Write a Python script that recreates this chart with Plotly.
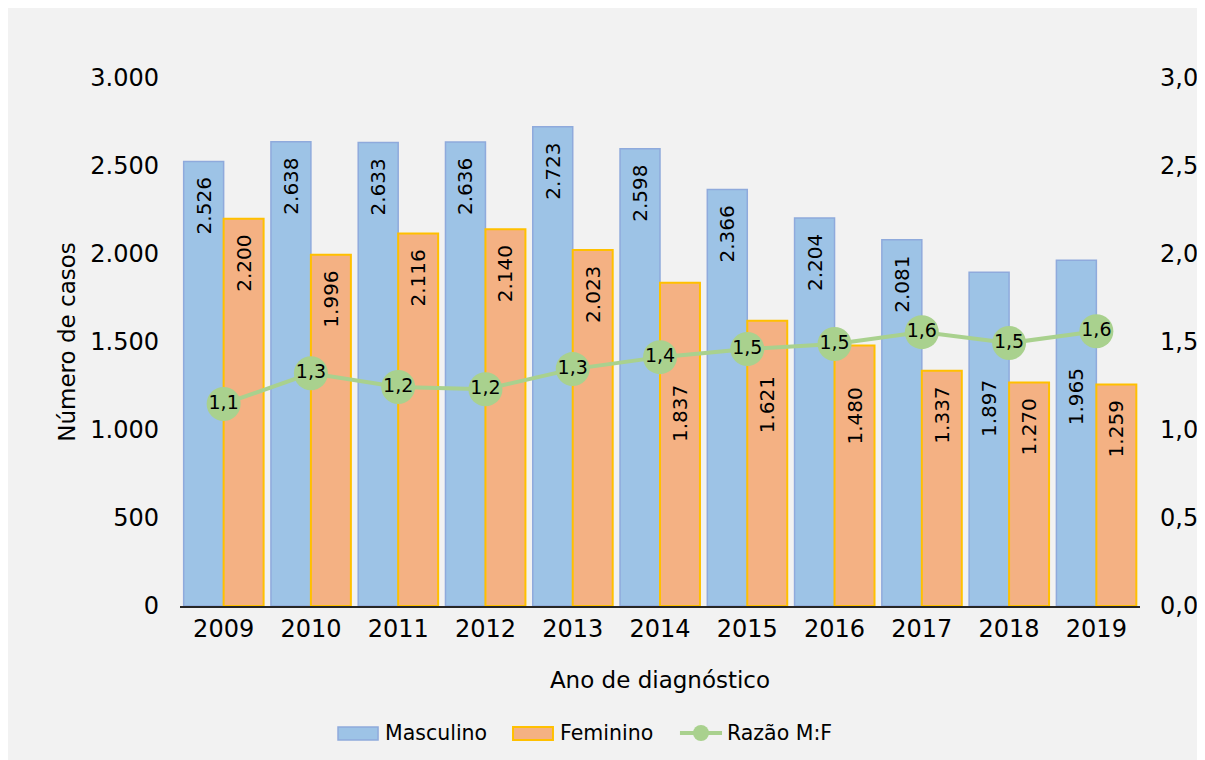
import plotly.graph_objects as go

anos = ["2009", "2010", "2011", "2012", "2013", "2014", "2015", "2016", "2017", "2018", "2019"]
masculino = [2526, 2638, 2633, 2636, 2723, 2598, 2366, 2204, 2081, 1897, 1965]
feminino = [2200, 1996, 2116, 2140, 2023, 1837, 1621, 1480, 1337, 1270, 1259]
razao = [1.148, 1.322, 1.244, 1.232, 1.346, 1.414, 1.460, 1.489, 1.556, 1.494, 1.561]

# data labels that the original moves down, below the ratio markers (label centre, in cases)
rotulo_masc_baixo = {"2018": 1120, "2019": 1188}
rotulo_fem_baixo = {"2014": 1091, "2015": 1142, "2016": 1080}

FONT = "DejaVu Sans"
C_M, C_M_LINE = "#9dc3e6", "#8faadc"
C_F, C_F_LINE = "#f4b183", "#ffc000"
C_R = "#a9d18e"
PAD = "\u00a0\u00a0"


def fmt(v):
    return f"{v:,}".replace(",", ".")


def textos(anos_, vals, baixo):
    return ["" if a in baixo else fmt(v) + PAD for a, v in zip(anos_, vals)]


fig = go.Figure()
fig.add_trace(go.Bar(
    x=anos, y=masculino, name="Masculino",
    marker=dict(color=C_M, line=dict(color=C_M_LINE, width=1.5)),
    text=textos(anos, masculino, rotulo_masc_baixo), texttemplate="%{text}",
    textposition="inside", insidetextanchor="end",
    textangle=-90, textfont=dict(family=FONT, size=20, color="black"),
    constraintext="none", showlegend=False,
))
fig.add_trace(go.Bar(
    x=anos, y=feminino, name="Feminino",
    marker=dict(color=C_F, line=dict(color=C_F_LINE, width=2)),
    text=textos(anos, feminino, rotulo_fem_baixo), texttemplate="%{text}",
    textposition="inside", insidetextanchor="end",
    textangle=-90, textfont=dict(family=FONT, size=20, color="black"),
    constraintext="none", showlegend=False,
))

for baixo, vals, shift in [(rotulo_masc_baixo, masculino, -20), (rotulo_fem_baixo, feminino, 20)]:
    for a, yl in baixo.items():
        i = anos.index(a)
        fig.add_annotation(x=i, y=yl, xref="x", yref="y", text=fmt(vals[i]),
                           textangle=-90, showarrow=False, xshift=shift,
                           font=dict(family=FONT, size=20, color="black"))

fig.add_trace(go.Scatter(
    x=anos, y=razao, name="Razão M:F", yaxis="y2",
    mode="lines+markers+text",
    line=dict(color=C_R, width=4),
    marker=dict(color=C_R, size=34),
    texttemplate="%{y:.1f}", textposition="middle center",
    textfont=dict(family=FONT, size=19, color="black"),
    showlegend=False,
))

# manual legend (wide symbols as in the reference)
LY0, LY1, LYC = -0.2292, -0.2538, -0.2405
fig.add_shape(type="rect", xref="paper", yref="paper", x0=0.1646, x1=0.2063, y0=LY1, y1=LY0,
              fillcolor=C_M, line=dict(color=C_M_LINE, width=1.5))
fig.add_shape(type="rect", xref="paper", yref="paper", x0=0.3469, x1=0.3885, y0=LY1, y1=LY0,
              fillcolor=C_F, line=dict(color=C_F_LINE, width=2))
fig.add_shape(type="line", xref="paper", yref="paper", x0=0.5208, x1=0.5646, y0=LYC, y1=LYC,
              line=dict(color=C_R, width=4))
fig.add_shape(type="circle", xref="paper", yref="paper",
              x0=0.5427 - 0.0083, x1=0.5427 + 0.0083, y0=LYC - 0.0152, y1=LYC + 0.0152,
              fillcolor=C_R, line=dict(width=0))
for xt, txt in [(0.2115, "Masculino"), (0.3938, "Feminino"), (0.5677, "Razão M:F")]:
    fig.add_annotation(x=xt, y=LYC, xref="paper", yref="paper", text=txt, showarrow=False,
                       xanchor="left", yanchor="middle",
                       font=dict(family=FONT, size=20.5, color="black"))

fig.update_layout(
    width=1197, height=752,
    margin=dict(l=172, r=65, t=70, b=154),
    paper_bgcolor="#f2f2f2", plot_bgcolor="rgba(0,0,0,0)",
    separators=",.",
    barmode="group", bargap=0.084, bargroupgap=0,
    font=dict(family=FONT, size=24, color="black"),
    showlegend=False,
    xaxis=dict(
        type="category",
        title=dict(text="Ano de diagnóstico", standoff=30, font=dict(size=23)),
        range=[-0.5, 10.5],
        showline=True, linecolor="#262626", linewidth=1.5,
        showgrid=False, ticks="", tickfont=dict(size=24), automargin=False,
    ),
    yaxis=dict(
        title=dict(text="Número de casos", standoff=8, font=dict(size=23)),
        range=[0, 3000], tickvals=[0, 500, 1000, 1500, 2000, 2500, 3000],
        tickformat=",", showgrid=False, zeroline=False, showline=False,
        ticklabelstandoff=20, tickfont=dict(size=24), automargin=False,
    ),
    yaxis2=dict(
        overlaying="y", side="right", range=[0, 3],
        tickvals=[0, 0.5, 1, 1.5, 2, 2.5, 3], tickformat=".1f",
        showgrid=False, zeroline=False, showline=False,
        ticklabelstandoff=19, tickfont=dict(size=24), automargin=False,
    ),
)

fig.write_html("out.html")
